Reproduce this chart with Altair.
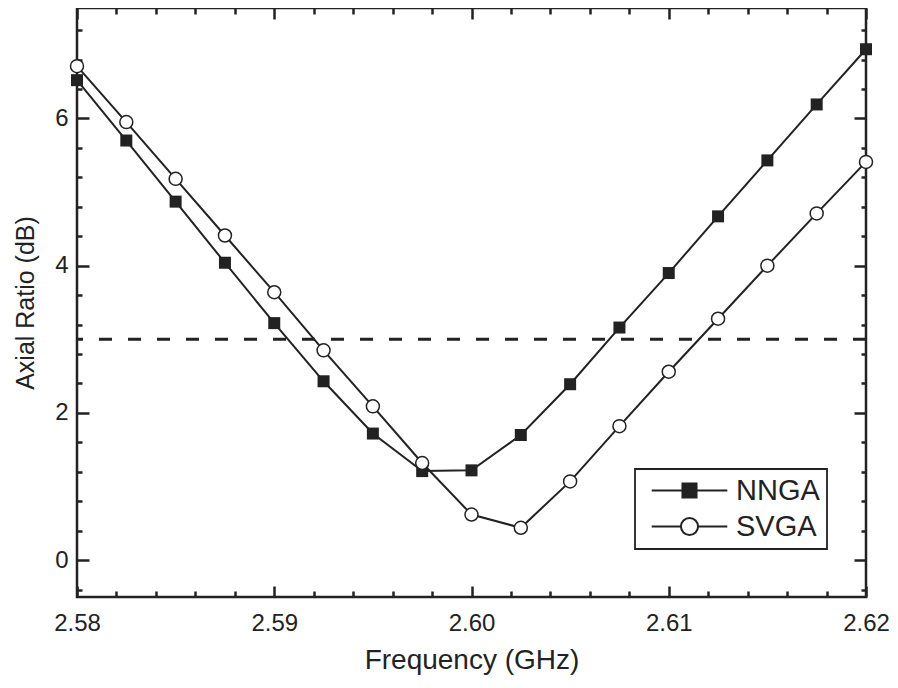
import altair as alt
import pandas as pd

# ---- data ----
freq = [2.58, 2.5825, 2.585, 2.5875, 2.59, 2.5925, 2.595, 2.5975, 2.60,
        2.6025, 2.605, 2.6075, 2.61, 2.6125, 2.615, 2.6175, 2.62]
nnga = [6.52, 5.70, 4.87, 4.04, 3.22, 2.43, 1.72, 1.21, 1.22,
        1.70, 2.39, 3.16, 3.90, 4.67, 5.43, 6.19, 6.94]
svga = [6.71, 5.95, 5.18, 4.41, 3.64, 2.85, 2.09, 1.32, 0.62,
        0.44, 1.07, 1.82, 2.56, 3.28, 4.00, 4.71, 5.41]
threshold = [3.0]
series_names = ["NNGA", "SVGA"]
x_major = [2.58, 2.59, 2.60, 2.61, 2.62]
y_major = [0, 2, 4, 6]
x_minor = [round(2.58 + 0.002 * i, 3) for i in range(21) if i % 5 != 0]
y_minor = [round(-0.4 + 0.4 * i, 1) for i in range(20) if (i - 1) % 5 != 0]

INK = "#222222"
FONT = "Liberation Sans"
W, H = 789, 589

xs = alt.Scale(domain=[2.58, 2.62], nice=False, zero=False)
ys = alt.Scale(domain=[-0.5, 7.5], nice=False, zero=False)

df = pd.DataFrame({"freq": freq, "NNGA": nnga, "SVGA": svga})


def tick_axis(orient, values, size, offset):
    return alt.Axis(orient=orient, values=values, offset=offset, labels=False,
                    domain=False, grid=False, ticks=True, tickSize=size,
                    tickWidth=2.5, tickColor=INK, title=None)


ax_x_main = alt.Axis(orient="bottom", values=x_major, format=".2f", ticks=False,
                     tickSize=0, domain=False, grid=False, labelFontSize=24,
                     labelPadding=14, labelColor=INK, labelFont=FONT,
                     labelFlush=False, title="Frequency (GHz)", titleFontSize=28,
                     titleFontWeight="normal", titleFont=FONT, titleColor=INK,
                     titlePadding=11)
ax_y_main = alt.Axis(orient="left", values=y_major, format="d", ticks=False,
                     tickSize=0, domain=False, grid=False, labelFontSize=24,
                     labelPadding=9, labelColor=INK, labelFont=FONT,
                     labelFlush=False, title="Axial Ratio (dB)", titleFontSize=25,
                     titleFontWeight="normal", titleFont=FONT, titleColor=INK,
                     titlePadding=16)

dash = alt.Chart(pd.DataFrame({"thr": threshold})).mark_rule(
    color=INK, strokeWidth=3, strokeDash=[13, 16]
).encode(y=alt.Y("thr:Q", scale=ys, axis=None))

line_n = alt.Chart(df).mark_line(color=INK, strokeWidth=2).encode(
    x=alt.X("freq:Q", scale=xs, axis=ax_x_main),
    y=alt.Y("NNGA:Q", scale=ys, axis=ax_y_main),
)
line_s = alt.Chart(df).mark_line(color=INK, strokeWidth=2).encode(
    x=alt.X("freq:Q", scale=xs, axis=tick_axis("top", x_minor, 6, -H)),
    y=alt.Y("SVGA:Q", scale=ys, axis=tick_axis("right", y_minor, 5, -W)),
)
pts_n = alt.Chart(df).mark_point(shape="square", filled=True, size=144,
                                 color=INK, opacity=1).encode(
    x=alt.X("freq:Q", scale=xs, axis=tick_axis("top", x_major, 11, -H)),
    y=alt.Y("NNGA:Q", scale=ys, axis=tick_axis("right", y_major, 12, -W)),
)
pts_s = alt.Chart(df).mark_point(shape="circle", filled=True, fill="white",
                                 stroke=INK, strokeWidth=1.5, size=169,
                                 opacity=1).encode(
    x=alt.X("freq:Q", scale=xs, axis=tick_axis("bottom", x_major, 11, -H)),
    y=alt.Y("SVGA:Q", scale=ys, axis=tick_axis("left", y_major, 12, -W)),
)

# legend-only layer (no rows): symbols are a line with the series marker
path_n = "M-4.2,0H-0.78M0.78,0H4.2M-0.78,-0.78H0.78V0.78H-0.78Z"
path_s = "M-4.2,0H-0.95M0.95,0H4.2M-0.95,0A0.95,0.95 0 1,1 0.95,0A0.95,0.95 0 1,1 -0.95,0Z"
legend_df = pd.DataFrame({"freq": pd.Series([], dtype=float),
                          "val": pd.Series([], dtype=float),
                          "series": pd.Series([], dtype=str)})


def make_legend():
    return alt.Legend(title=None, orient="none", legendX=558, legendY=461,
                      padding=7, strokeColor=INK, fillColor="white",
                      symbolSize=324, symbolStrokeWidth=2,
                      symbolOffset=33, labelOffset=32,
                      labelFontSize=29, labelFont=FONT, labelColor=INK,
                      rowPadding=6)


leg = alt.Chart(legend_df).mark_point(strokeWidth=2, opacity=1).encode(
    x=alt.X("freq:Q", scale=xs, axis=tick_axis("bottom", x_minor, 6, -H)),
    y=alt.Y("val:Q", scale=ys, axis=tick_axis("left", y_minor, 5, -W)),
    shape=alt.Shape("series:N", scale=alt.Scale(domain=series_names,
                                                range=[path_n, path_s]),
                    legend=make_legend()),
    fill=alt.Fill("series:N", scale=alt.Scale(domain=series_names,
                                              range=[INK, "white"]),
                  legend=make_legend()),
    stroke=alt.Stroke("series:N", scale=alt.Scale(domain=series_names,
                                                  range=[INK, INK]),
                      legend=make_legend()),
)

chart = alt.layer(dash, line_n, line_s, pts_n, pts_s, leg).resolve_axis(
    x="independent", y="independent"
).properties(
    width=W, height=H,
    padding={"left": 69, "top": 0, "right": 24, "bottom": 83},
    autosize=alt.AutoSizeParams(type="none"),
    background="white",
).configure_view(stroke=INK, strokeWidth=2.5).configure_legend(strokeWidth=1.8)

chart.save("out.html", embed_options={"renderer": "svg", "actions": False})
